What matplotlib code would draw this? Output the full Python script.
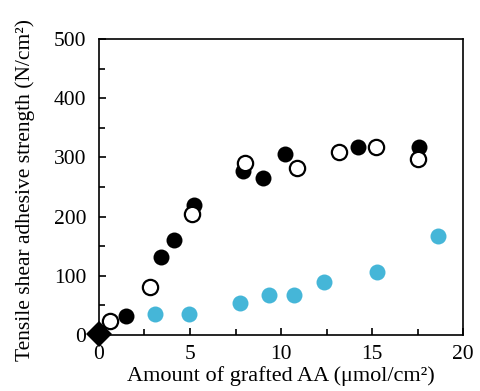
import matplotlib.pyplot as plt
from matplotlib.ticker import MultipleLocator

plt.rcParams['font.family'] = ['Liberation Serif', 'DejaVu Serif']

# filled black circles
filled_x = [1.5, 3.4, 4.1, 5.2, 7.9, 9.0, 10.2, 14.2, 17.6]
filled_y = [33, 132, 160, 219, 278, 265, 306, 318, 318]

# open circles
open_x = [0.6, 2.8, 5.1, 8.0, 10.9, 13.2, 15.2, 17.5]
open_y = [24, 81, 204, 291, 283, 310, 318, 297]

# blue circles
blue_x = [3.1, 4.95, 7.75, 9.35, 10.7, 12.35, 15.25, 18.6]
blue_y = [35, 35, 55, 68, 68, 90, 106, 167]

# untreated
dia_x = [0]
dia_y = [1]

fig = plt.figure(figsize=(4.8, 3.91), dpi=100)
ax = fig.add_axes([0.206, 0.143, 0.759, 0.757])

ax.plot(blue_x, blue_y, 'o', color='#45b6d8', markersize=11.5, markeredgewidth=0, clip_on=False, zorder=3)
ax.plot(filled_x, filled_y, 'o', color='black', markersize=11.5, markeredgewidth=0, clip_on=False, zorder=3)
ax.plot(open_x, open_y, 'o', markerfacecolor='white', markeredgecolor='black', markersize=11, markeredgewidth=1.6, clip_on=False, zorder=4)
ax.plot(dia_x, dia_y, 'D', color='black', markersize=13.5, markeredgewidth=0, clip_on=False, zorder=5)

ax.set_xlim(0, 20)
ax.set_ylim(0, 500)
ax.xaxis.set_major_locator(MultipleLocator(5))
ax.xaxis.set_minor_locator(MultipleLocator(2.5))
ax.yaxis.set_major_locator(MultipleLocator(100))
ax.yaxis.set_minor_locator(MultipleLocator(50))
ax.tick_params(which='both', direction='in', top=False, right=False, labelsize=15.5, width=1.2)
ax.tick_params(which='major', length=5)
ax.tick_params(which='minor', length=4)
ax.tick_params(axis='y', pad=9)
ax.tick_params(axis='x', pad=7)
for s in ax.spines.values():
    s.set_linewidth(1.2)

ax.set_xlabel('Amount of grafted AA (μmol/cm²)', fontsize=16)
ax.set_ylabel('Tensile shear adhesive strength (N/cm²)', fontsize=15.5)
ax.xaxis.set_label_coords(0.5, -0.105)
ax.yaxis.set_label_coords(-0.176, 0.49)

fig.savefig('out.png', dpi=100)
